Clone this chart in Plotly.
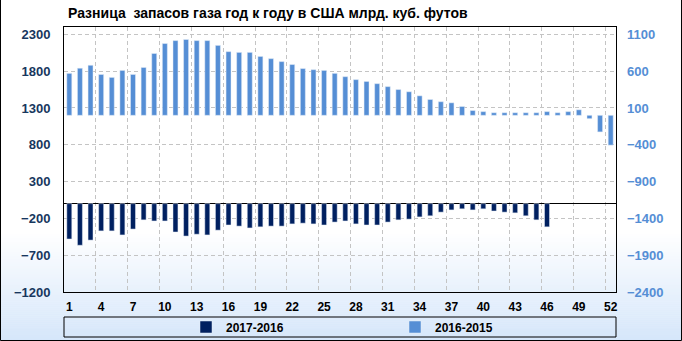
import plotly.graph_objects as go

weeks = list(range(1, 53))
diff_2016_2015 = [570, 640, 680, 555, 515, 610, 555, 650, 840, 975, 1015, 1030, 1015, 1015, 950,
                  865, 855, 855, 800, 770, 730, 690, 635, 620, 610, 570, 525, 485, 460, 430,
                  390, 350, 320, 265, 215, 185, 170, 120, 65, 50, 35, 35, 35, 35, 35, 50, 35,
                  50, 75, -45, -225, -405]
weeks_2017 = list(range(1, 47))
diff_2017_2016 = [-480, -565, -495, -370, -370, -425, -345, -220, -235, -235, -385, -440, -415,
                  -425, -360, -290, -305, -330, -315, -305, -305, -275, -265, -275, -290, -250,
                  -235, -275, -290, -290, -250, -220, -210, -180, -165, -115, -85, -70, -85, -70,
                  -100, -115, -125, -165, -220, -315]
left_ticks = [-1200, -700, -200, 300, 800, 1300, 1800, 2300]
right_ticks = [-2400, -1900, -1400, -900, -400, 100, 600, 1100]
x_ticks = list(range(1, 53, 3))
x_grid = [3.5 + 3 * k for k in range(17)]

W, H = 682, 341
L, R, T, B = 64, 66, 27, 49
PW, PH = W - L - R, H - T - B


def px(x):
    return (x - L) / PW


def py(y):
    return (H - B - y) / PH


FONT = "Liberation Sans"
DARK = "#002060"
LIGHT = "#558ED5"

fig = go.Figure()
fig.add_trace(go.Bar(x=weeks_2017, y=diff_2017_2016, name="2017-2016", marker_color=DARK,
                     width=0.47, yaxis="y"))
fig.add_trace(go.Bar(x=weeks, y=diff_2016_2015, name="2016-2015", marker_color=LIGHT,
                     width=0.47, yaxis="y2"))

shapes = []
# background gradient
g0, g1 = 232, 341
steps = 55
c_end = (213, 230, 250)
for i in range(steps):
    y0 = g0 + (g1 - g0) * i / steps
    y1 = g0 + (g1 - g0) * (i + 1) / steps + 0.5
    t = (i + 0.5) / steps
    c = tuple(round(255 + (ce - 255) * t) for ce in c_end)
    shapes.append(dict(type="rect", xref="paper", yref="paper", x0=px(0), x1=px(W),
                       y0=py(y1), y1=py(y0), fillcolor="rgb(%d,%d,%d)" % c,
                       line=dict(width=0), layer="below"))
# outer border (left, bottom, right)
shapes.append(dict(type="path", xref="paper", yref="paper",
                   path="M %f,%f L %f,%f L %f,%f L %f,%f" % (px(0.5), py(0), px(0.5), py(340.5),
                                                            px(681.5), py(340.5), px(681.5), py(0)),
                   line=dict(color="black", width=1), layer="above"))
# legend box
shapes.append(dict(type="rect", xref="paper", yref="paper", x0=px(64), x1=px(616),
                   y0=py(337), y1=py(317), line=dict(color="black", width=1),
                   fillcolor="rgba(0,0,0,0)", layer="above"))

fig.update_layout(
    width=W, height=H,
    margin=dict(l=L, r=R, t=T, b=B, autoexpand=False),
    paper_bgcolor="white",
    plot_bgcolor="rgba(0,0,0,0)",
    barmode="overlay",
    shapes=shapes,
    title=dict(text="Разница  запасов газа год к году в США млрд. куб. футов",
               x=68 / W, xanchor="left", xref="container",
               y=1 - 13 / H, yanchor="middle", yref="container",
               font=dict(family=FONT, size=14, color="black", weight="bold")),
    showlegend=True,
    legend=dict(orientation="h", xref="container", yref="container",
                x=186 / W, xanchor="left", y=1 - 327 / H, yanchor="middle",
                bgcolor="rgba(0,0,0,0)", borderwidth=0, entrywidth=164, entrywidthmode="pixels",
                font=dict(family=FONT, size=12, color="black", weight="bold"),
                traceorder="normal"),
    xaxis=dict(range=[0.5, 52.5], tickmode="array", tickvals=x_ticks,
               ticktext=[str(v) for v in x_ticks], showgrid=False, zeroline=False,
               showline=True, mirror=True, linecolor="black", linewidth=1, ticks="",
               ticklabelstandoff=4,
               tickfont=dict(family=FONT, size=12, color="black", weight="bold"),
               minor=dict(tickmode="array", tickvals=x_grid, showgrid=True,
                          gridcolor="#c4c4c4", griddash="4px,3px", gridwidth=1, ticks="")),
    yaxis=dict(range=[-1200, 2400], tickmode="array", tickvals=left_ticks,
               showgrid=True, gridcolor="#c4c4c4", griddash="4px,3px", gridwidth=1,
               zeroline=True, zerolinecolor="black", zerolinewidth=1,
               showline=True, mirror=True, linecolor="black", linewidth=1, ticks="",
               ticklabelstandoff=10,
               tickfont=dict(family=FONT, size=13, color="#17375E", weight="bold")),
    yaxis2=dict(range=[-2400, 1200], tickmode="array", tickvals=right_ticks,
                overlaying="y", side="right", showgrid=False, zeroline=False,
                showline=False, ticks="", ticklabelstandoff=10,
                tickfont=dict(family=FONT, size=13, color=LIGHT, weight="bold")),
)

fig.write_html("out.html")
